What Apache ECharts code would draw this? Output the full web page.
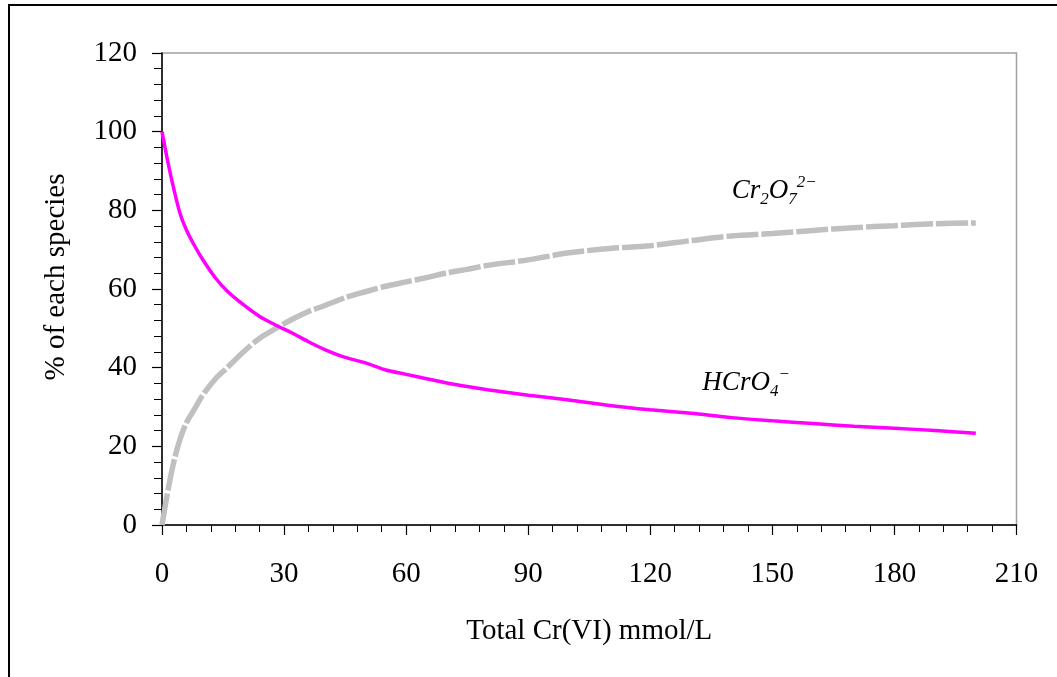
<!DOCTYPE html>
<html>
<head>
<meta charset="utf-8">
<script src="https://cdn.jsdelivr.net/npm/echarts@6/dist/echarts.min.js"></script>
<style>
html,body{margin:0;padding:0;background:#fff;}
#chart{width:1057px;height:677px;}
</style>
</head>
<body>
<div id="chart"></div>
<script>
// Total Cr(VI), mmol/L
const totalCr = [0, 1.5, 3, 4.5, 6, 8, 10, 13, 16, 20, 24, 28, 32, 36, 40, 45, 50, 55, 60, 65, 70, 75, 80, 90, 100, 110, 120, 130, 140, 150, 160, 170, 180, 190, 200];
// % HCrO4-
const hcro4 = [100, 92, 85, 79, 75, 71, 67.5, 63, 59.5, 56, 53, 50.8, 48.8, 46.6, 44.6, 42.6, 41.2, 39.4, 38.3, 37.2, 36.1, 35.2, 34.4, 33, 31.8, 30.4, 29.3, 28.4, 27.3, 26.5, 25.8, 25.1, 24.6, 24, 23.3];
// % Cr2O7 2-
const cr2o7 = [0, 9, 16.5, 22, 26, 29.5, 33, 37, 40, 44, 47.5, 50, 52.3, 54.3, 55.8, 57.8, 59.3, 60.7, 61.8, 62.9, 64.1, 65, 66, 67.4, 69.2, 70.3, 71, 72.3, 73.5, 74.1, 74.9, 75.6, 76.1, 76.6, 76.8];
const xTicks = {min: 0, max: 210, interval: 30};
const yTicks = {min: 0, max: 120, interval: 20};
const xTitle = 'Total Cr(VI) mmol/L';
const yTitle = '% of each species';

const serif = "'Liberation Serif', 'DejaVu Serif', serif";
const chart = echarts.init(document.getElementById('chart'));

const pairs = (ys) => totalCr.map((x, i) => [x, ys[i]]);

chart.setOption({
  backgroundColor: '#fff',
  animation: false,
  grid: {left: 162, top: 53, right: 40.5, bottom: 152, show: true, borderColor: '#a0a0a0', borderWidth: 1.5, backgroundColor: 'transparent'},
  xAxis: {
    type: 'value', min: xTicks.min, max: xTicks.max, interval: xTicks.interval,
    axisLine: {show: true, lineStyle: {color: '#000', width: 1.5}},
    axisTick: {show: true, inside: false, length: 10, lineStyle: {color: '#000', width: 1.2}},
    minorTick: {show: true, splitNumber: 5, length: 7, lineStyle: {color: '#000', width: 1}},
    splitLine: {show: false},
    axisLabel: {fontFamily: serif, fontSize: 29, color: '#000', margin: 35},
    name: xTitle, nameLocation: 'middle', nameGap: 92,
    nameTextStyle: {fontFamily: serif, fontSize: 29, color: '#000'}
  },
  yAxis: {
    type: 'value', min: yTicks.min, max: yTicks.max, interval: yTicks.interval,
    axisLine: {show: true, lineStyle: {color: '#000', width: 1.5}},
    axisTick: {show: true, inside: false, length: 10, lineStyle: {color: '#000', width: 1.2}},
    minorTick: {show: true, splitNumber: 5, length: 8, lineStyle: {color: '#000', width: 1}},
    splitLine: {show: false},
    axisLabel: {fontFamily: serif, fontSize: 29, color: '#000', margin: 25},
    name: yTitle, nameLocation: 'middle', nameGap: 91, nameRotate: 90,
    nameTextStyle: {fontFamily: serif, fontSize: 29, color: '#000', padding: [0, 0, 0, 24]}
  },
  series: [
    {
      name: 'HCrO4-', type: 'line', data: pairs(hcro4), symbol: 'none', smooth: 0.3,
      lineStyle: {color: '#ff00ff', width: 3.5}, z: 3
    },
    {
      name: 'Cr2O7 2-', type: 'line', data: pairs(cr2o7), symbol: 'none', smooth: 0.3,
      lineStyle: {color: '#c0c0c0', width: 5.5, type: [32, 3], cap: 'butt'}, z: 2
    }
  ]
});

const rich = {
  m: {fontFamily: serif, fontStyle: 'italic', fontSize: 27, lineHeight: 34, color: '#000'},
  sub: {fontFamily: serif, fontStyle: 'italic', fontSize: 17, lineHeight: 12, verticalAlign: 'bottom', color: '#000'},
  sup: {fontFamily: serif, fontStyle: 'italic', fontSize: 17, lineHeight: 20, verticalAlign: 'top', color: '#000'}
};
const pCr = chart.convertToPixel({gridIndex: 0}, [140, 85]);
const pH = chart.convertToPixel({gridIndex: 0}, [132.8, 36]);
chart.setOption({
  graphic: [
    {type: 'rect', silent: true, shape: {x: 9, y: 5, width: 1100, height: 720}, style: {fill: 'none', stroke: '#000', lineWidth: 2}},
    {type: 'text', silent: true, x: pCr[0], y: pCr[1], style: {
      text: '{m|Cr}{sub|2}{m|O}{sub|7}{sup|2−}', rich: rich, verticalAlign: 'middle', align: 'left'}},
    {type: 'text', silent: true, x: pH[0], y: pH[1], style: {
      text: '{m|HCrO}{sub|4}{sup|−}', rich: rich, verticalAlign: 'middle', align: 'left'}}
  ]
});
</script>
</body>
</html>
